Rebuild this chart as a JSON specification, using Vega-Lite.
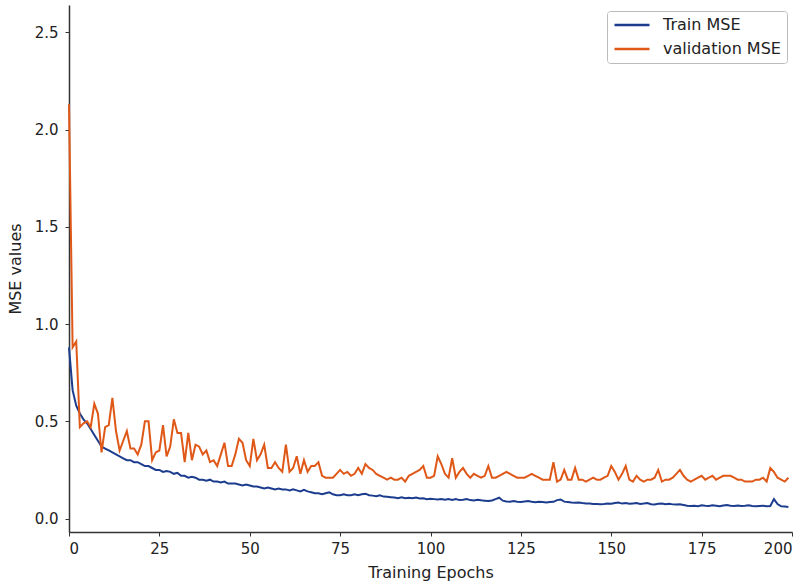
{
  "$schema": "https://vega.github.io/schema/vega-lite/v6.json",
  "autosize": "none",
  "padding": {"left": 69, "top": 5, "right": 13, "bottom": 53},
  "width": 723,
  "height": 527,
  "config": {
    "view": {"stroke": null},
    "font": "DejaVu Sans",
    "axis": {"grid": false, "domainColor": "#333", "tickColor": "#333", "labelColor": "#222", "titleColor": "#222", "titleFontWeight": "normal", "labelFontSize": 15, "titleFontSize": 16, "tickSize": 4, "domainWidth": 1.5}
  },
  "data": {"values": [
{"epoch":0,"train":0.88,"val":2.13},{"epoch":1,"train":0.66,"val":0.88},{"epoch":2,"train":0.58,"val":0.91},{"epoch":3,"train":0.54,"val":0.47},{"epoch":4,"train":0.51,"val":0.49},
{"epoch":5,"train":0.49,"val":0.50},{"epoch":6,"train":0.46,"val":0.47},{"epoch":7,"train":0.43,"val":0.59},{"epoch":8,"train":0.40,"val":0.54},{"epoch":9,"train":0.37,"val":0.34},
{"epoch":10,"train":0.36,"val":0.47},{"epoch":11,"train":0.35,"val":0.48},{"epoch":12,"train":0.34,"val":0.62},{"epoch":13,"train":0.33,"val":0.45},{"epoch":14,"train":0.32,"val":0.35},
{"epoch":15,"train":0.31,"val":0.40},{"epoch":16,"train":0.30,"val":0.45},{"epoch":17,"train":0.30,"val":0.36},{"epoch":18,"train":0.29,"val":0.36},{"epoch":19,"train":0.29,"val":0.33},
{"epoch":20,"train":0.28,"val":0.38},{"epoch":21,"train":0.27,"val":0.50},{"epoch":22,"train":0.27,"val":0.50},{"epoch":23,"train":0.26,"val":0.30},{"epoch":24,"train":0.25,"val":0.34},
{"epoch":25,"train":0.25,"val":0.35},{"epoch":26,"train":0.24,"val":0.48},{"epoch":27,"train":0.245,"val":0.32},{"epoch":28,"train":0.24,"val":0.37},{"epoch":29,"train":0.23,"val":0.51},
{"epoch":30,"train":0.235,"val":0.44},{"epoch":31,"train":0.22,"val":0.44},{"epoch":32,"train":0.22,"val":0.29},{"epoch":33,"train":0.21,"val":0.44},{"epoch":34,"train":0.215,"val":0.30},
{"epoch":35,"train":0.21,"val":0.38},{"epoch":36,"train":0.20,"val":0.37},{"epoch":37,"train":0.20,"val":0.33},{"epoch":38,"train":0.195,"val":0.35},{"epoch":39,"train":0.20,"val":0.29},
{"epoch":40,"train":0.19,"val":0.30},{"epoch":41,"train":0.19,"val":0.27},{"epoch":42,"train":0.185,"val":0.33},{"epoch":43,"train":0.19,"val":0.39},{"epoch":44,"train":0.18,"val":0.27},
{"epoch":45,"train":0.18,"val":0.27},{"epoch":46,"train":0.18,"val":0.33},{"epoch":47,"train":0.175,"val":0.41},{"epoch":48,"train":0.17,"val":0.39},{"epoch":49,"train":0.175,"val":0.30},
{"epoch":50,"train":0.17,"val":0.27},{"epoch":51,"train":0.165,"val":0.41},{"epoch":52,"train":0.165,"val":0.30},{"epoch":53,"train":0.16,"val":0.33},{"epoch":54,"train":0.155,"val":0.38},
{"epoch":55,"train":0.16,"val":0.26},{"epoch":56,"train":0.155,"val":0.26},{"epoch":57,"train":0.15,"val":0.29},{"epoch":58,"train":0.155,"val":0.26},{"epoch":59,"train":0.15,"val":0.24},
{"epoch":60,"train":0.15,"val":0.38},{"epoch":61,"train":0.145,"val":0.24},{"epoch":62,"train":0.15,"val":0.26},{"epoch":63,"train":0.145,"val":0.32},{"epoch":64,"train":0.14,"val":0.23},
{"epoch":65,"train":0.148,"val":0.30},{"epoch":66,"train":0.14,"val":0.24},{"epoch":67,"train":0.135,"val":0.27},{"epoch":68,"train":0.13,"val":0.27},{"epoch":69,"train":0.13,"val":0.29},
{"epoch":70,"train":0.125,"val":0.22},{"epoch":71,"train":0.13,"val":0.21},{"epoch":72,"train":0.135,"val":0.21},{"epoch":73,"train":0.125,"val":0.21},{"epoch":74,"train":0.12,"val":0.23},
{"epoch":75,"train":0.12,"val":0.25},{"epoch":76,"train":0.125,"val":0.23},{"epoch":77,"train":0.12,"val":0.24},{"epoch":78,"train":0.12,"val":0.22},{"epoch":79,"train":0.125,"val":0.23},
{"epoch":80,"train":0.12,"val":0.26},{"epoch":81,"train":0.125,"val":0.23},{"epoch":82,"train":0.128,"val":0.28},{"epoch":83,"train":0.12,"val":0.26},{"epoch":84,"train":0.118,"val":0.25},
{"epoch":85,"train":0.115,"val":0.23},{"epoch":86,"train":0.12,"val":0.22},{"epoch":87,"train":0.113,"val":0.21},{"epoch":88,"train":0.112,"val":0.20},{"epoch":89,"train":0.11,"val":0.21},
{"epoch":90,"train":0.108,"val":0.20},{"epoch":91,"train":0.105,"val":0.20},{"epoch":92,"train":0.11,"val":0.21},{"epoch":93,"train":0.105,"val":0.19},{"epoch":94,"train":0.107,"val":0.22},
{"epoch":95,"train":0.104,"val":0.23},{"epoch":96,"train":0.108,"val":0.24},{"epoch":97,"train":0.103,"val":0.25},{"epoch":98,"train":0.104,"val":0.27},{"epoch":99,"train":0.10,"val":0.21},
{"epoch":100,"train":0.102,"val":0.21},{"epoch":101,"train":0.10,"val":0.22},{"epoch":102,"train":0.098,"val":0.32},{"epoch":103,"train":0.10,"val":0.28},{"epoch":104,"train":0.097,"val":0.23},
{"epoch":105,"train":0.10,"val":0.21},{"epoch":106,"train":0.096,"val":0.31},{"epoch":107,"train":0.10,"val":0.21},{"epoch":108,"train":0.095,"val":0.24},{"epoch":109,"train":0.097,"val":0.26},
{"epoch":110,"train":0.10,"val":0.23},{"epoch":111,"train":0.095,"val":0.21},{"epoch":112,"train":0.093,"val":0.23},{"epoch":113,"train":0.097,"val":0.22},{"epoch":114,"train":0.094,"val":0.21},
{"epoch":115,"train":0.092,"val":0.22},{"epoch":116,"train":0.09,"val":0.27},{"epoch":117,"train":0.093,"val":0.21},{"epoch":118,"train":0.10,"val":0.21},{"epoch":119,"train":0.107,"val":0.22},
{"epoch":120,"train":0.092,"val":0.23},{"epoch":121,"train":0.088,"val":0.24},{"epoch":122,"train":0.087,"val":0.23},{"epoch":123,"train":0.09,"val":0.22},{"epoch":124,"train":0.086,"val":0.21},
{"epoch":125,"train":0.085,"val":0.21},{"epoch":126,"train":0.088,"val":0.21},{"epoch":127,"train":0.09,"val":0.22},{"epoch":128,"train":0.086,"val":0.23},{"epoch":129,"train":0.084,"val":0.22},
{"epoch":130,"train":0.087,"val":0.21},{"epoch":131,"train":0.085,"val":0.20},{"epoch":132,"train":0.083,"val":0.20},{"epoch":133,"train":0.085,"val":0.20},{"epoch":134,"train":0.086,"val":0.29},
{"epoch":135,"train":0.095,"val":0.19},{"epoch":136,"train":0.098,"val":0.20},{"epoch":137,"train":0.087,"val":0.25},{"epoch":138,"train":0.085,"val":0.20},{"epoch":139,"train":0.083,"val":0.20},
{"epoch":140,"train":0.082,"val":0.26},{"epoch":141,"train":0.083,"val":0.20},{"epoch":142,"train":0.08,"val":0.20},{"epoch":143,"train":0.078,"val":0.19},{"epoch":144,"train":0.078,"val":0.20},
{"epoch":145,"train":0.075,"val":0.21},{"epoch":146,"train":0.075,"val":0.20},{"epoch":147,"train":0.074,"val":0.20},{"epoch":148,"train":0.075,"val":0.21},{"epoch":149,"train":0.078,"val":0.22},
{"epoch":150,"train":0.076,"val":0.27},{"epoch":151,"train":0.08,"val":0.24},{"epoch":152,"train":0.082,"val":0.20},{"epoch":153,"train":0.077,"val":0.23},{"epoch":154,"train":0.08,"val":0.27},
{"epoch":155,"train":0.076,"val":0.20},{"epoch":156,"train":0.078,"val":0.19},{"epoch":157,"train":0.08,"val":0.22},{"epoch":158,"train":0.075,"val":0.20},{"epoch":159,"train":0.077,"val":0.19},
{"epoch":160,"train":0.08,"val":0.20},{"epoch":161,"train":0.074,"val":0.20},{"epoch":162,"train":0.073,"val":0.21},{"epoch":163,"train":0.076,"val":0.25},{"epoch":164,"train":0.078,"val":0.19},
{"epoch":165,"train":0.074,"val":0.20},{"epoch":166,"train":0.076,"val":0.20},{"epoch":167,"train":0.073,"val":0.21},{"epoch":168,"train":0.072,"val":0.23},{"epoch":169,"train":0.074,"val":0.25},
{"epoch":170,"train":0.07,"val":0.22},{"epoch":171,"train":0.066,"val":0.20},{"epoch":172,"train":0.065,"val":0.19},{"epoch":173,"train":0.066,"val":0.20},{"epoch":174,"train":0.064,"val":0.21},
{"epoch":175,"train":0.068,"val":0.22},{"epoch":176,"train":0.066,"val":0.20},{"epoch":177,"train":0.065,"val":0.21},{"epoch":178,"train":0.068,"val":0.22},{"epoch":179,"train":0.066,"val":0.20},
{"epoch":180,"train":0.064,"val":0.21},{"epoch":181,"train":0.067,"val":0.22},{"epoch":182,"train":0.07,"val":0.22},{"epoch":183,"train":0.066,"val":0.22},{"epoch":184,"train":0.065,"val":0.21},
{"epoch":185,"train":0.067,"val":0.20},{"epoch":186,"train":0.065,"val":0.20},{"epoch":187,"train":0.066,"val":0.19},{"epoch":188,"train":0.068,"val":0.19},{"epoch":189,"train":0.065,"val":0.19},
{"epoch":190,"train":0.064,"val":0.20},{"epoch":191,"train":0.065,"val":0.20},{"epoch":192,"train":0.066,"val":0.21},{"epoch":193,"train":0.064,"val":0.19},{"epoch":194,"train":0.065,"val":0.26},
{"epoch":195,"train":0.10,"val":0.24},{"epoch":196,"train":0.075,"val":0.21},{"epoch":197,"train":0.063,"val":0.20},{"epoch":198,"train":0.062,"val":0.19},{"epoch":199,"train":0.06,"val":0.21}
  ]},
  "transform": [{"fold": ["train", "val"], "as": ["series", "mse"]}],
  "mark": {"type": "line", "strokeWidth": 2},
  "encoding": {
    "x": {"field": "epoch", "type": "quantitative", "title": "Training Epochs",
      "scale": {"domain": [0, 200], "nice": false},
      "axis": {"values": [0, 25, 50, 75, 100, 125, 150, 175, 200], "labelPadding": 5, "titlePadding": 8}},
    "y": {"field": "mse", "type": "quantitative", "title": "MSE values",
      "scale": {"domain": [-0.069, 2.64], "nice": false, "zero": false},
      "axis": {"values": [0, 0.5, 1, 1.5, 2, 2.5], "format": ".1f", "labelPadding": 7, "titlePadding": 11}},
    "color": {"field": "series", "type": "nominal",
      "scale": {"domain": ["train", "val"], "range": ["#1c3c8e", "#df5817"]},
      "legend": {"title": null, "orient": "none", "legendX": 538, "legendY": 6,
        "labelExpr": "datum.value == 'train' ? 'Train MSE' : 'validation MSE'",
        "symbolType": "stroke", "symbolSize": 1225, "symbolStrokeWidth": 2.5,
        "labelFontSize": 16, "labelColor": "#222", "labelOffset": 12, "clipHeight": 16, "rowPadding": 8,
        "padding": 6, "strokeColor": "#bbb", "fillColor": "white", "cornerRadius": 3}}
  }
}
